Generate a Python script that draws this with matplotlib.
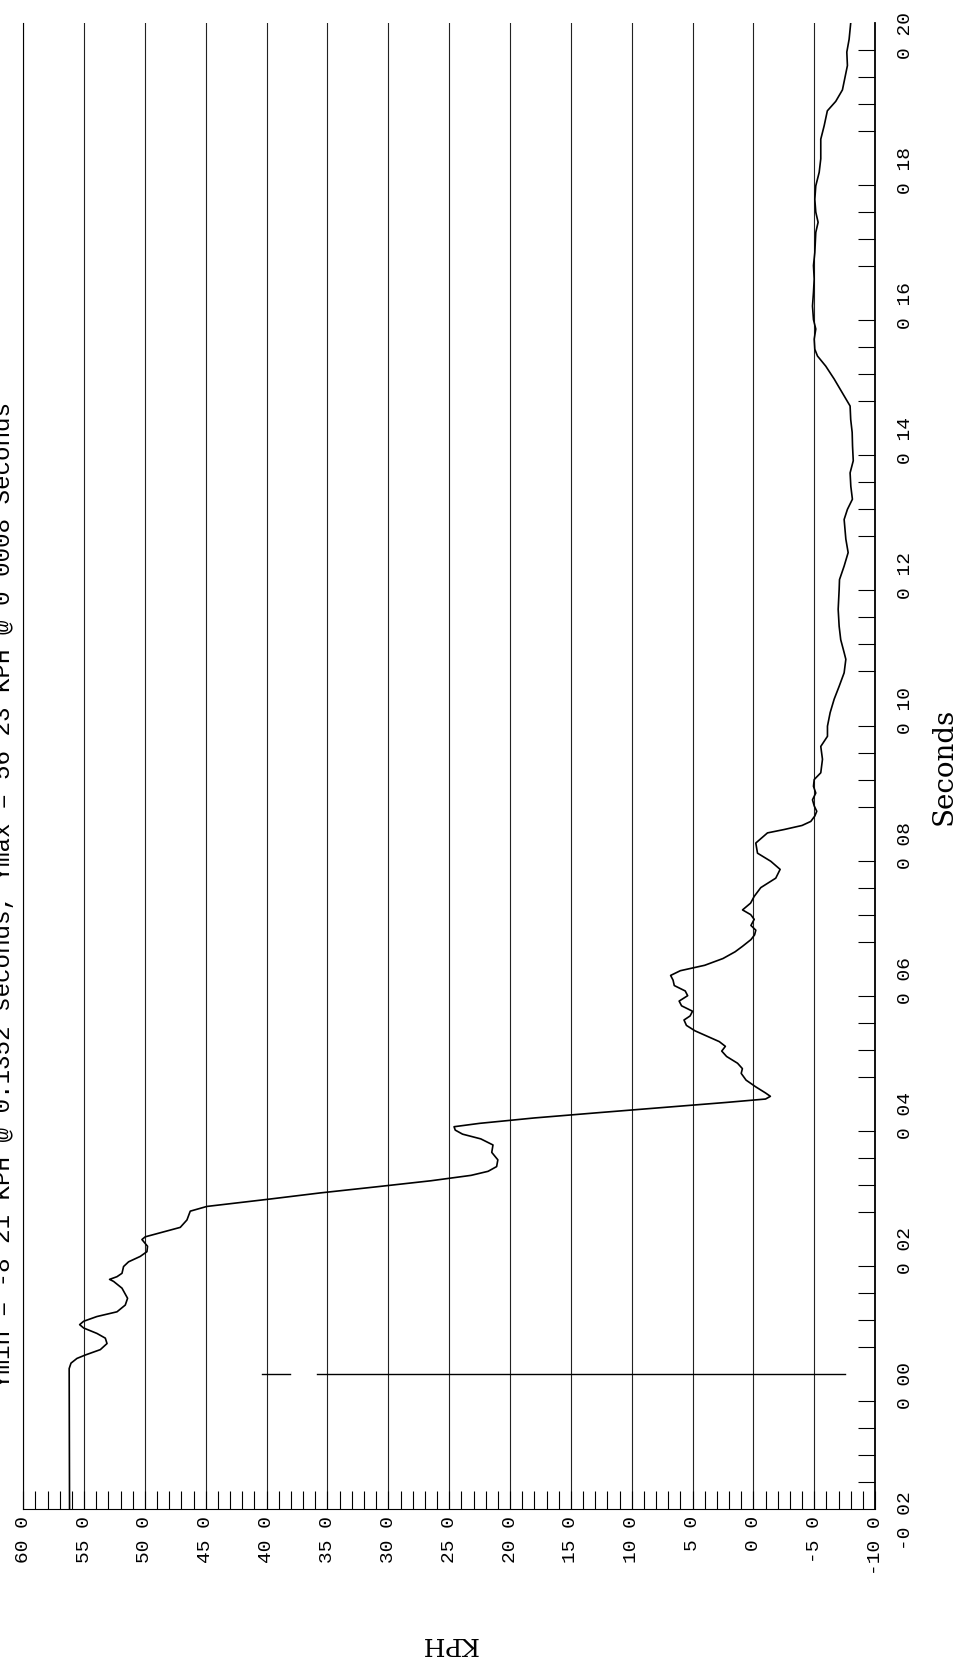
import numpy as np
import matplotlib
matplotlib.use("Agg")
import matplotlib.pyplot as plt
import matplotlib.transforms as mtransforms

# speed trace (time in seconds, speed in KPH)
seconds = [-0.0200, 0.0008, 0.0016, 0.0023, 0.0028, 0.0036, 0.0045, 0.0053, 0.0060, 0.0068,
           0.0073, 0.0078, 0.0085, 0.0092, 0.0102, 0.0112, 0.0127, 0.0137, 0.0140, 0.0144,
           0.0149, 0.0159, 0.0166, 0.0174, 0.0181, 0.0189, 0.0199, 0.0203, 0.0209, 0.0217,
           0.0228, 0.0241, 0.0248, 0.0259, 0.0268, 0.0277, 0.0286, 0.0294, 0.0300, 0.0307,
           0.0317, 0.0328, 0.0339, 0.0348, 0.0355, 0.0361, 0.0366, 0.0371, 0.0379, 0.0387,
           0.0395, 0.0402, 0.0407, 0.0411, 0.0416, 0.0425, 0.0435, 0.0445, 0.0452, 0.0460,
           0.0470, 0.0478, 0.0485, 0.0492, 0.0500, 0.0508, 0.0516, 0.0524, 0.0530, 0.0537,
           0.0545, 0.0552, 0.0560, 0.0567, 0.0575, 0.0583, 0.0590, 0.0597, 0.0605, 0.0615,
           0.0625, 0.0633, 0.0643, 0.0650, 0.0657, 0.0664, 0.0673, 0.0680, 0.0687, 0.0697,
           0.0707, 0.0720, 0.0734, 0.0747, 0.0759, 0.0771, 0.0786, 0.0801, 0.0806, 0.0812,
           0.0818, 0.0826, 0.0833, 0.0841, 0.0850, 0.0860, 0.0870, 0.0880, 0.0890, 0.0910,
           0.0929, 0.0944, 0.0959, 0.0979, 0.0999, 0.1018, 0.1038, 0.1058, 0.1068, 0.1087,
           0.1107, 0.1132, 0.1161, 0.1176, 0.1196, 0.1216, 0.1236, 0.1265, 0.1280, 0.1295,
           0.1314, 0.1334, 0.1352, 0.1374, 0.1394, 0.1413, 0.1433, 0.1448, 0.1473, 0.1492,
           0.1507, 0.1517, 0.1532, 0.1547, 0.1561, 0.1581, 0.1601, 0.1621, 0.1641, 0.1660,
           0.1690, 0.1705, 0.1720, 0.1739, 0.1759, 0.1779, 0.1799, 0.1828, 0.1848, 0.1870,
           0.1884, 0.1901, 0.1937, 0.1957, 0.1976, 0.2000]
kph = [56.20, 56.23, 56.08, 55.59, 54.91, 53.67, 53.12, 53.26, 53.95, 55.04,
       55.37, 55.04, 53.95, 52.30, 51.62, 51.43, 51.89, 52.58, 52.91, 52.30,
       51.89, 51.76, 51.35, 50.39, 49.84, 49.79, 50.25, 49.98, 48.74, 47.10,
       46.55, 46.28, 44.91, 39.70, 35.60, 31.00, 26.50, 23.20, 21.80, 21.10,
       21.00, 21.50, 21.40, 22.40, 23.90, 24.50, 24.60, 22.50, 18.00, 12.60,
       7.00, 2.20, -1.00, -1.40, -1.00, -0.20, 0.60, 1.00, 0.90, 1.30,
       2.20, 2.60, 2.30, 2.80, 3.80, 4.80, 5.50, 5.70, 5.20, 5.00,
       5.90, 6.10, 5.40, 5.60, 6.50, 6.60, 6.80, 6.00, 4.00, 2.50,
       1.50, 0.90, 0.20, -0.10, -0.20, 0.20, -0.07, 0.22, 0.89, 0.23,
       -0.07, -0.61, -1.84, -2.20, -1.43, -0.34, -0.20, -1.16, -2.53, -4.00,
       -4.72, -5.05, -5.21, -5.00, -4.86, -5.13, -4.94, -5.00, -5.54, -5.68,
       -5.54, -6.09, -6.09, -6.31, -6.64, -7.05, -7.46, -7.60, -7.46, -7.18,
       -7.05, -6.97, -7.05, -7.08, -7.46, -7.79, -7.60, -7.46, -7.73, -8.14,
       -8.01, -7.95, -8.21, -8.15, -8.12, -8.00, -7.95, -7.46, -6.64, -5.95,
       -5.27, -5.05, -5.00, -5.13, -4.94, -4.86, -4.94, -5.00, -4.94, -5.05,
       -5.13, -5.32, -5.13, -5.05, -5.13, -5.41, -5.54, -5.54, -5.82, -6.08,
       -6.77, -7.32, -7.73, -7.68, -7.87, -8.00]

# time-zero marker (KPH spans drawn at t = 0)
marker_time = 0.0
marker_spans = [(35.9, -7.5), (40.4, 38.1)]

kph_ticks = [60, 55, 50, 45, 40, 35, 30, 25, 20, 15, 10, 5, 0, -5, -10]
kph_tick_labels = ['60 0', '55 0', '50 0', '45 0', '40 0', '35 0', '30 0', '25 0',
                   '20 0', '15 0', '10 0', '5 0', '0 0', '-5 0', '-10 0']
sec_ticks = [-0.02, 0.00, 0.02, 0.04, 0.06, 0.08, 0.10, 0.12, 0.14, 0.16, 0.18, 0.20]
sec_tick_labels = ['-0 02', '0 00', '0 02', '0 04', '0 06', '0 08', '0 10',
                   '0 12', '0 14', '0 16', '0 18', '0 20']

title = "Ymin = -8 21 KPH @ 0.1352 seconds, Ymax = 56 23 KPH @ 0 0008 Seconds"

plt.rcParams['font.family'] = ['Liberation Mono', 'DejaVu Sans']

fig = plt.figure(figsize=(9.67, 16.68), dpi=100)
ax = fig.add_axes([0.0241, 0.0953, 0.8808, 0.8909])

ax.plot(kph, seconds, color='black', lw=1.2, zorder=3)
for a, b in marker_spans:
    ax.plot([a, b], [marker_time, marker_time], color='black', lw=1.0, zorder=3)

ax.set_xlim(60, -10)
ax.set_ylim(-0.02, 0.20)

ax.set_xticks(kph_ticks, kph_tick_labels)
ax.set_xticks(np.arange(-10, 61, 1), minor=True)
ax.yaxis.tick_right()
ax.set_yticks(sec_ticks, sec_tick_labels)
ax.set_yticks(np.linspace(-0.02, 0.20, 56), minor=True)

ax.tick_params(axis='x', which='both', direction='in', length=13, width=0.8,
               top=False, bottom=True)
ax.tick_params(axis='x', which='major', labelrotation=90, labelsize=14, pad=5)
ax.tick_params(axis='y', which='major', length=0, labelsize=14, pad=16,
               labelrotation=90, left=False, right=True)
ax.tick_params(axis='y', which='minor', direction='in', length=12.5, width=0.8,
               left=False, right=True)

ax.grid(axis='x', which='major', color='#222222', lw=0.8)

ax.spines['top'].set_visible(False)
ax.spines['left'].set_linestyle((0, (3, 1)))
ax.spines['left'].set_linewidth(0.8)
ax.spines['right'].set_linewidth(1.3)
ax.spines['bottom'].set_linewidth(0.8)

# the seconds labels sit a little below their ticks in the original
shift = mtransforms.ScaledTranslation(0, -0.12, fig.dpi_scale_trans)
for lab in ax.get_yticklabels():
    lab.set_transform(lab.get_transform() + shift)
    lab.set_va('center')

ax.set_ylabel('Seconds', fontfamily='DejaVu Serif', fontsize=20, rotation=90)
ax.yaxis.set_label_position('right')
ax.yaxis.set_label_coords(1.0806, 0.5)
ax.yaxis.label.set_va('center')
ax.yaxis.label.set_ha('center')

ax.set_xlabel('KPH', fontfamily='DejaVu Serif', fontsize=18, rotation=180)
ax.xaxis.set_label_coords(0.5, -0.0902)
ax.xaxis.label.set_va('center')

fig.text(10 / 967, 1 - 895 / 1668, title, rotation=90, rotation_mode='anchor',
         ha='center', va='baseline', fontsize=17.5, family='Liberation Mono')

fig.savefig('out.png', dpi=100)
